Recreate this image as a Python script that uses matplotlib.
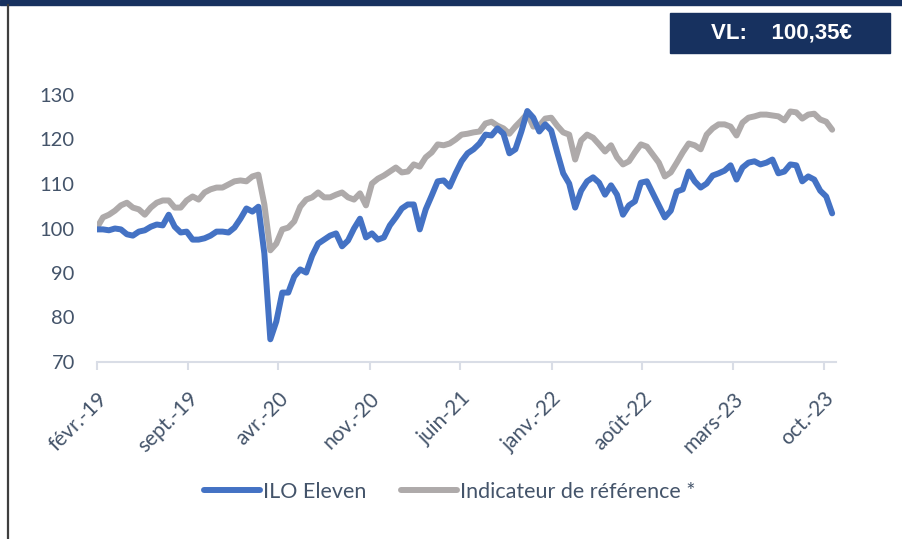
import pandas as pd
import matplotlib
matplotlib.use('Agg')
import matplotlib.pyplot as plt
from matplotlib.patches import Rectangle
from matplotlib.lines import Line2D

# Fortnightly values (base 100 in Feb 2019)
start_date = '2019-02-01'
step = '14D'

ilo_eleven = [
    99.8, 99.8, 99.6, 100.0, 99.8, 98.7, 98.4, 99.3, 99.6, 100.4,
    100.9, 100.7, 103.1, 100.4, 99.1, 99.3, 97.5, 97.5, 97.8, 98.4,
    99.3, 99.3, 99.1, 100.2, 102.2, 104.5, 103.8, 104.9, 94.4, 75.1,
    79.1, 85.6, 85.6, 89.2, 90.8, 90.1, 93.9, 96.6, 97.5, 98.4,
    98.9, 96.0, 97.3, 100.0, 102.2, 98.0, 98.9, 97.5, 98.0, 100.7,
    102.5, 104.5, 105.4, 105.4, 99.8, 104.3, 107.4, 110.6, 110.8, 109.4,
    112.4, 115.1, 116.9, 117.8, 119.1, 121.1, 120.9, 122.5, 121.3, 116.9,
    117.8, 121.8, 126.4, 124.9, 121.8, 123.4, 122.0, 117.1, 112.4, 110.1,
    104.7, 108.5, 110.6, 111.5, 110.3, 107.6, 109.7, 107.6, 103.1, 105.2,
    106.1, 110.3, 110.6, 107.9, 105.2, 102.5, 104.0, 108.3, 108.8, 112.8,
    110.6, 109.2, 110.1, 111.9, 112.4, 113.0, 114.2, 111.0, 113.7, 114.8,
    115.1, 114.4, 114.8, 115.5, 112.4, 112.8, 114.4, 114.2, 110.6, 111.7,
    111.0, 108.5, 107.2, 103.4,
]

reference = [
    100.2, 102.5, 103.1, 104.0, 105.2, 105.8, 104.7, 104.3, 103.1, 104.7,
    105.8, 106.3, 106.3, 104.7, 104.7, 106.3, 107.2, 106.5, 108.1, 108.8,
    109.2, 109.2, 109.9, 110.6, 110.8, 110.6, 111.7, 112.1, 105.4, 95.1,
    96.6, 99.8, 100.2, 101.6, 104.9, 106.5, 107.0, 108.1, 107.0, 107.0,
    107.6, 108.1, 107.0, 106.5, 107.9, 105.2, 110.1, 111.2, 111.9, 112.8,
    113.7, 112.6, 112.8, 114.4, 113.9, 116.0, 117.1, 118.9, 118.7, 119.1,
    120.0, 121.1, 121.3, 121.6, 121.8, 123.6, 124.0, 123.1, 122.5, 121.3,
    122.9, 124.3, 125.8, 122.9, 123.1, 124.7, 124.9, 123.1, 121.6, 121.1,
    115.5, 119.8, 121.1, 120.4, 118.9, 117.3, 118.7, 116.0, 114.4, 115.1,
    117.1, 118.9, 118.4, 116.6, 114.8, 111.7, 112.6, 114.8, 117.1, 119.1,
    118.7, 117.8, 121.1, 122.5, 123.4, 123.4, 122.9, 120.9, 123.8, 124.9,
    125.2, 125.6, 125.6, 125.4, 125.2, 124.3, 126.3, 126.1, 124.7, 125.6,
    125.8, 124.5, 124.0, 122.2,
]

tick_dates = ['2019-02-01', '2019-09-01', '2020-04-01', '2020-11-01', '2021-06-01',
              '2022-01-01', '2022-08-01', '2023-03-01', '2023-10-01']
tick_labels = ['févr.-19', 'sept.-19', 'avr.-20', 'nov.-20', 'juin-21',
               'janv.-22', 'août-22', 'mars-23', 'oct.-23']
y_ticks = [70, 80, 90, 100, 110, 120, 130]
vl_text = 'VL:    100,35€'

dates = pd.date_range(start_date, periods=len(ilo_eleven), freq=step)

plt.rcParams['font.family'] = ['Lato', 'DejaVu Sans']
text_color = '#44546A'
blue = '#4472C4'
grey = '#AEAAAA'
navy = '#17315F'

fig = plt.figure(figsize=(9.02, 5.39), dpi=100)
ax = fig.add_axes([97 / 902, 1 - 362 / 539, (836 - 97) / 902, (362 - 95) / 539])

ax.plot(dates, ilo_eleven, color=blue, lw=4.3, solid_joinstyle='round',
        solid_capstyle='round', label='ILO Eleven', zorder=3)
ax.plot(dates, reference, color=grey, lw=4.3, solid_joinstyle='round',
        solid_capstyle='round', label='Indicateur de référence *', zorder=2)

ax.set_ylim(70, 130)
ax.set_yticks(y_ticks)
ax.set_xlim(pd.Timestamp('2019-02-01'), pd.Timestamp('2023-10-29'))
ax.set_xticks(pd.to_datetime(tick_dates))
ax.set_xticklabels(tick_labels, rotation=45, ha='right', va='top',
                   rotation_mode='anchor')

for side in ['top', 'right', 'left']:
    ax.spines[side].set_visible(False)
ax.spines['bottom'].set_color('#D9DDE6')
ax.spines['bottom'].set_linewidth(1.5)
ax.tick_params(axis='y', length=0, pad=16, labelsize=14.5, labelcolor=text_color)
ax.tick_params(axis='x', length=6, width=1.5, color='#D9DDE6', pad=13,
               labelsize=15, labelcolor=text_color)

handles, labels = ax.get_legend_handles_labels()
leg = fig.legend(handles, labels, loc='center', bbox_to_anchor=(450 / 902, 1 - 492 / 539),
                 ncol=2, frameon=False, fontsize=15.5, handlelength=2.6,
                 handletextpad=0.15, columnspacing=1.6)
for t in leg.get_texts():
    t.set_color(text_color)

# top band, left rule and the NAV box
fig.patches.append(Rectangle((0, 1 - 5 / 539), 1, 5 / 539, transform=fig.transFigure,
                             color=navy, zorder=0))
fig.lines.append(Line2D([8 / 902, 8 / 902], [0, 1 - 5 / 539], transform=fig.transFigure,
                        color='#3F3F3F', lw=1.6))
fig.patches.append(Rectangle((670 / 902, 1 - 53 / 539), 220 / 902, 40 / 539,
                             transform=fig.transFigure, color=navy, zorder=0))
fig.text(781 / 902, 1 - 33 / 539, vl_text, color='white', fontsize=16, fontweight='bold',
         family=['Liberation Sans', 'DejaVu Sans'], ha='center', va='center')

fig.savefig('out.png', dpi=100)
